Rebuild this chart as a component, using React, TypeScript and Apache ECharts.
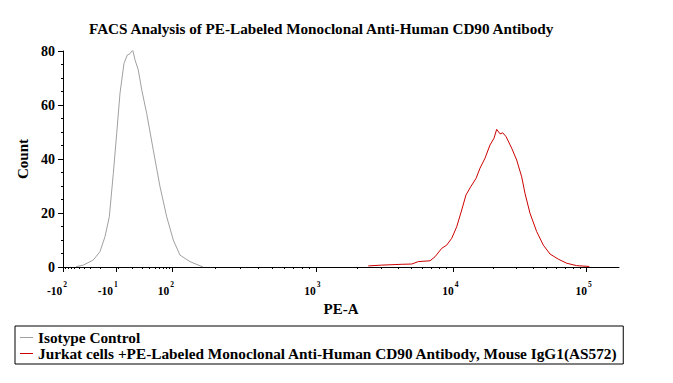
import React, { useEffect, useRef } from "react";
import * as echarts from "echarts";

// Channel scale 0..1000 across the biexponential PE-A axis
const tickChannels = [0, 95, 196, 455, 701, 941];
const tickLabels = ["-10|2", "-10|1", "10|2", "10|3", "10|4", "10|5"];

const isoX = [23.4, 36.5, 54.5, 66.5, 75.5, 83.3, 90.5, 96.6, 102.5, 109.7, 115.6, 120.5, 125.4, 129.5, 135.4, 141.6, 150.5, 162.4, 174.5, 186.5, 198.4, 210.4, 228.4, 251.8];
const isoY = [0.1, 0.7, 2.6, 5.7, 11.2, 18.6, 34.7, 49.5, 64.3, 75.4, 78.5, 79.0, 80.4, 76.7, 73.0, 65.6, 56.9, 43.3, 29.7, 18.6, 10.0, 4.4, 2.0, 0];

const cd90X = [549.1, 573.2, 609.2, 627.2, 639.0, 660.1, 669.1, 681.1, 690.1, 699.1, 708.1, 717.1, 724.8, 733.3, 742.8, 750.0, 759.0, 768.0, 775.2, 780.0, 786.0, 790.8, 796.8, 807.0, 816.0, 825.0, 830.9, 839.9, 852.0, 863.9, 875.9, 890.9, 905.9, 923.9, 946.6];
const cd90Y = [0.4, 0.7, 1.0, 1.1, 2.0, 2.3, 3.8, 6.9, 8.1, 10.6, 14.9, 21.1, 26.7, 29.7, 32.8, 36.6, 40.3, 45.2, 47.7, 51.0, 49.3, 49.7, 48.3, 44.0, 39.6, 33.4, 27.3, 19.9, 13.1, 8.1, 4.8, 2.9, 1.4, 0.5, 0.2];

const seriesNames = [
  "Isotype Control",
  "Jurkat cells +PE-Labeled Monoclonal Anti-Human CD90 Antibody, Mouse IgG1(AS572)",
];

// trailing spacer (px) per tick label, to offset labels to the left of their ticks
const labelSpacer = [12, 16, 12, 7, 5, 5];

function minorTicks(): number[] {
  const out: number[] = [];
  const m = [2, 3, 4, 5, 6, 7, 8, 9];
  m.forEach((k) => out.push(95 - 95 * Math.log10(k)));
  m.forEach((k) => out.push(95 + 101 * Math.log10(k)));
  [[196, 455], [455, 701], [701, 941]].forEach(([a, b]) =>
    m.forEach((k) => out.push(a + (b - a) * Math.log10(k)))
  );
  out.push(100);
  return out;
}

const FONT = "'Liberation Serif', 'Times New Roman', serif";

export default function App() {
  const ref = useRef<HTMLDivElement>(null);
  useEffect(() => {
    if (!ref.current) return;
    const chart = echarts.init(ref.current, undefined, { renderer: "svg" });
    const gridRect = { left: 63, right: 54, top: 51, bottom: 116 };
    const rich: Record<string, any> = {
      b: { fontFamily: FONT, fontSize: 11.5, fontWeight: "bold", color: "#000", lineHeight: 17, verticalAlign: "bottom" },
      s: { fontFamily: FONT, fontSize: 7.5, fontWeight: "bold", color: "#000", lineHeight: 8, verticalAlign: "top", padding: [0, 0, 0, 1] },
    };
    labelSpacer.forEach((w, i) => {
      rich["p" + i] = { width: w, fontSize: 8, lineHeight: 8 };
    });
    chart.setOption({
      animation: false,
      backgroundColor: "#fff",
      title: {
        text: "FACS Analysis of PE-Labeled Monoclonal Anti-Human CD90 Antibody",
        left: 84,
        top: 16,
        textStyle: { fontFamily: FONT, fontSize: 15.2, fontWeight: "bold", color: "#000" },
      },
      legend: {
        orient: "vertical",
        left: 15,
        top: 326,
        padding: [4, 5, 3, 5],
        itemGap: 1,
        itemWidth: 13,
        itemHeight: 1,
        icon: "rect",
        borderColor: "#000",
        borderWidth: 1,
        borderRadius: 0,
        textStyle: { fontFamily: FONT, fontSize: 15.3, fontWeight: "bold", color: "#000" },
        data: seriesNames,
      },
      grid: [{ ...gridRect }, { ...gridRect }],
      xAxis: [
        {
          type: "value",
          gridIndex: 0,
          min: 0,
          max: 1000,
          name: "PE-A",
          nameLocation: "middle",
          nameGap: 33,
          nameTextStyle: { fontFamily: FONT, fontSize: 15, fontWeight: "bold", color: "#000" },
          axisLine: { lineStyle: { color: "#000", width: 1 } },
          axisTick: { show: true, length: 5, customValues: tickChannels, lineStyle: { color: "#000" } },
          axisLabel: {
            customValues: tickChannels,
            showMinLabel: true,
            showMaxLabel: true,
            margin: 13,
            formatter: (v: number) => {
              const i = tickChannels.findIndex((t) => Math.abs(t - v) < 0.5);
              if (i < 0) return "";
              const [b, s] = tickLabels[i].split("|");
              const pad = labelSpacer[i] > 0 ? `{p${i}| }` : "";
              return `{b|${b}}{s|${s}}${pad}`;
            },
            rich,
          },
          splitLine: { show: false },
        },
        {
          type: "value",
          gridIndex: 1,
          min: 0,
          max: 1000,
          axisLine: { show: false },
          axisTick: { show: true, length: 2, customValues: minorTicks(), lineStyle: { color: "#000" } },
          axisLabel: { show: false },
          splitLine: { show: false },
        },
      ],
      yAxis: [
        {
          type: "value",
          gridIndex: 0,
          min: 0,
          max: 80,
          interval: 20,
          name: "Count",
          nameLocation: "middle",
          nameGap: 30,
          nameTextStyle: { fontFamily: FONT, fontSize: 15, fontWeight: "bold", color: "#000" },
          axisLine: { show: true, lineStyle: { color: "#000", width: 1 } },
          axisTick: { show: true, length: 5, lineStyle: { color: "#000" } },
          minorTick: { show: true, splitNumber: 4, length: 2, lineStyle: { color: "#000" } },
          axisLabel: { fontFamily: FONT, fontSize: 14, fontWeight: "bold", color: "#000", margin: 8 },
          splitLine: { show: false },
        },
        { type: "value", gridIndex: 1, min: 0, max: 80, show: false },
      ],
      series: [
        {
          name: seriesNames[0],
          type: "line",
          xAxisIndex: 0,
          yAxisIndex: 0,
          showSymbol: false,
          symbol: "none",
          lineStyle: { color: "#a0a0a0", width: 1 },
          itemStyle: { color: "#a0a0a0" },
          data: isoX.map((x, i) => [x, isoY[i]]),
        },
        {
          name: seriesNames[1],
          type: "line",
          xAxisIndex: 0,
          yAxisIndex: 0,
          showSymbol: false,
          symbol: "none",
          lineStyle: { color: "#cc0000", width: 1 },
          itemStyle: { color: "#cc0000" },
          data: cd90X.map((x, i) => [x, cd90Y[i]]),
        },
      ],
    });
    return () => chart.dispose();
  }, []);
  return <div ref={ref} style={{ width: 673, height: 383, position: "absolute", left: 0, top: 0 }} />;
}
